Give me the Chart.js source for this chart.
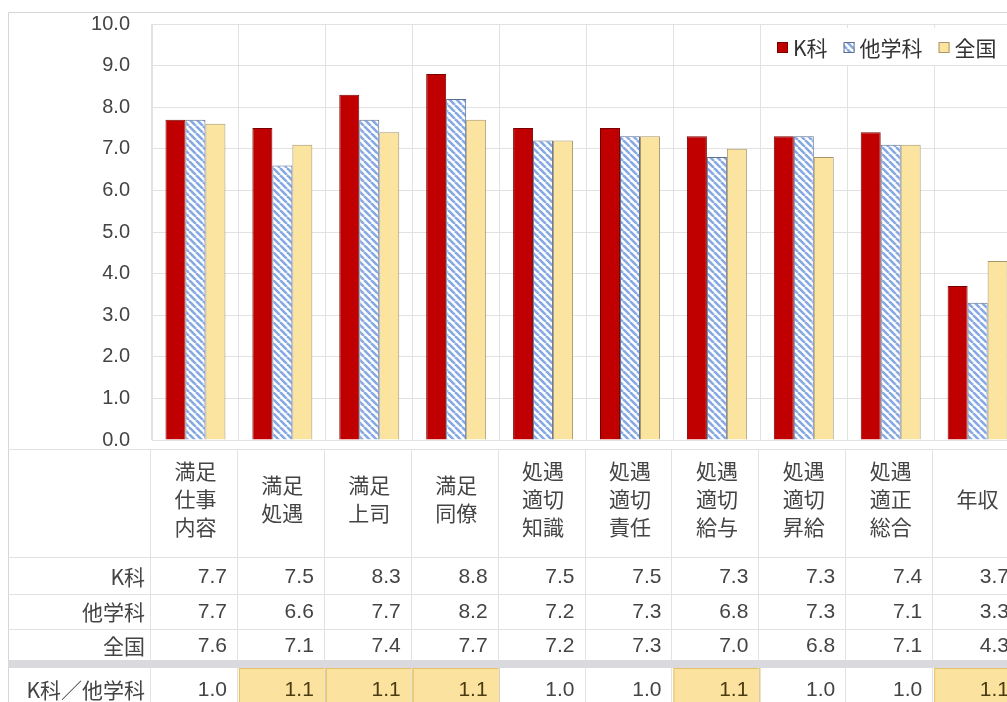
<!DOCTYPE html>
<html lang="ja">
<head>
<meta charset="utf-8">
<title>満足度比較</title>
<script src="https://cdn.jsdelivr.net/npm/chart.js@4.4.1/dist/chart.umd.min.js"></script>
<style>
  html, body { margin: 0; padding: 0; background: #fff; overflow: hidden; }
  #wrap { position: relative; width: 1030px; height: 702px; }
</style>
</head>
<body>
<div id="wrap"><canvas id="chart"></canvas></div>
<script>
// data (table below the plot gives the exact values)
const categories = [
  ['満足', '仕事', '内容'], ['満足', '処遇'], ['満足', '上司'], ['満足', '同僚'],
  ['処遇', '適切', '知識'], ['処遇', '適切', '責任'], ['処遇', '適切', '給与'],
  ['処遇', '適切', '昇給'], ['処遇', '適正', '総合'], ['年収']
];
const seriesNames = ['K科', '他学科', '全国'];
const kValues = [7.7, 7.5, 8.3, 8.8, 7.5, 7.5, 7.3, 7.3, 7.4, 3.7];
const otherValues = [7.7, 6.6, 7.7, 8.2, 7.2, 7.3, 6.8, 7.3, 7.1, 3.3];
const nationalValues = [7.6, 7.1, 7.4, 7.7, 7.2, 7.3, 7.0, 6.8, 7.1, 4.3];
const ratioLabel = 'K科／他学科';
const ratioValues = [1.0, 1.1, 1.1, 1.1, 1.0, 1.0, 1.1, 1.0, 1.0, 1.1];
const yMin = 0, yMax = 10, yStep = 1;

const TEXT = '#444444';
const GRID = '#e2e2e2';
const NUM_FONT = "21px 'Liberation Sans', Arial, 'Noto Sans CJK JP', sans-serif";
const JP_FONT = "21px 'Noto Sans CJK JP', sans-serif";

// blue diagonal hatch for 他学科
function makeHatch() {
  const c = document.createElement('canvas');
  c.width = 7; c.height = 7;
  const g = c.getContext('2d');
  g.fillStyle = '#ffffff';
  g.fillRect(0, 0, 7, 7);
  g.strokeStyle = '#86a9e2';
  g.lineWidth = 2.6;
  [-7, 0, 7].forEach(o => {
    g.beginPath();
    g.moveTo(o, 0);
    g.lineTo(o + 7, 7);
    g.stroke();
  });
  return g.createPattern(c, 'repeat');
}
const hatch = makeHatch();

// table under the plot + legend box
const tablePlugin = {
  id: 'dataTable',
  afterDraw(chart) {
    const ctx = chart.ctx;
    const x = chart.scales.x;
    const n = categories.length;
    const colW = (x.right - x.left) / n;
    const W = chart.width, H = chart.height;

    ctx.save();
    // outer frame
    ctx.strokeStyle = '#d6d6d6';
    ctx.lineWidth = 1;
    ctx.beginPath();
    ctx.moveTo(8.5, H); ctx.lineTo(8.5, 12.5); ctx.lineTo(W, 12.5);
    ctx.stroke();

    const tableTop = 449;
    const rowEdges = [557, 594, 629, 660];
    const bandBottom = 668;

    // ratio row highlight cells
    ratioValues.forEach((v, i) => {
      if (v > 1.05) {
        const l = x.left + i * colW;
        ctx.fillStyle = '#fbe29e';
        ctx.fillRect(l, bandBottom, colW, H - bandBottom);
        ctx.strokeStyle = '#e3c06a';
        ctx.strokeRect(l + 0.5, bandBottom + 0.5, colW - 1, H - bandBottom);
      }
    });

    // grid of the table
    ctx.strokeStyle = GRID;
    ctx.beginPath();
    ctx.moveTo(8, tableTop + 0.5); ctx.lineTo(W, tableTop + 0.5);
    rowEdges.slice(0, 3).forEach(y => { ctx.moveTo(8, y + 0.5); ctx.lineTo(W, y + 0.5); });
    for (let i = 0; i <= n; i++) {
      const px = Math.round(x.left + i * colW) - 1.5;
      ctx.moveTo(px, tableTop); ctx.lineTo(px, H);
    }
    ctx.stroke();

    // gray separator band
    ctx.fillStyle = '#d9d9de';
    ctx.fillRect(8, rowEdges[3], W - 8, bandBottom - rowEdges[3]);

    // rows
    const rows = [
      { label: seriesNames[0], values: kValues, mid: 577 },
      { label: seriesNames[1], values: otherValues, mid: 612 },
      { label: seriesNames[2], values: nationalValues, mid: 646 },
      { label: ratioLabel, values: ratioValues, mid: 690 }
    ];
    ctx.textBaseline = 'middle';
    rows.forEach((r, ri) => {
      ctx.textAlign = 'right';
      ctx.font = JP_FONT;
      ctx.fillStyle = TEXT;
      ctx.fillText(r.label, x.left - 7, r.mid);
      ctx.font = NUM_FONT;
      r.values.forEach((v, i) => {
        const right = x.left + (i + 1) * colW - 12;
        ctx.fillStyle = (ri === 3 && v > 1.05) ? '#4a3c10' : TEXT;
        ctx.fillText(v.toFixed(1), right, r.mid);
      });
    });

    // legend box inside the plot, top right
    const ds = chart.data.datasets;
    ctx.fillStyle = '#ffffff';
    ctx.fillRect(763, 28, W - 763, 37);
    let lx = 777;
    const ly = 48;
    ctx.font = JP_FONT;
    ctx.textAlign = 'left';
    ds.forEach(d => {
      ctx.fillStyle = d.backgroundColor;
      ctx.fillRect(lx, ly - 6, 11, 11);
      ctx.strokeStyle = d.borderColor;
      ctx.strokeRect(lx + 0.5, ly - 5.5, 10, 10);
      ctx.fillStyle = '#333333';
      ctx.fillText(d.label, lx + 16, ly);
      lx += 16 + ctx.measureText(d.label).width + 16;
    });
    ctx.restore();
  }
};

new Chart(document.getElementById('chart'), {
  type: 'bar',
  data: {
    labels: categories,
    datasets: [
      { label: seriesNames[0], data: kValues, backgroundColor: '#c00000', borderColor: '#7a0000', borderWidth: 1 },
      { label: seriesNames[1], data: otherValues, backgroundColor: hatch, borderColor: '#5d6d8e', borderWidth: 1 },
      { label: seriesNames[2], data: nationalValues, backgroundColor: '#fbe3a0', borderColor: '#a6966a', borderWidth: 1 }
    ]
  },
  options: {
    responsive: true,
    maintainAspectRatio: false,
    animation: false,
    layout: { padding: { top: 24, right: 8, bottom: 0, left: 0 } },
    datasets: { bar: { categoryPercentage: 0.69, barPercentage: 1.0 } },
    scales: {
      x: {
        grid: { color: GRID, drawTicks: false, offset: true },
        border: { color: GRID },
        ticks: {
          autoSkip: false, maxRotation: 0, padding: 31, crossAlign: 'center',
          color: TEXT,
          font: { family: "'Noto Sans CJK JP', sans-serif", size: 21, lineHeight: 1.33 }
        },
        afterFit(axis) { axis.height = 262; }
      },
      y: {
        min: yMin, max: yMax,
        grid: { color: GRID, drawTicks: false },
        border: { color: GRID },
        ticks: {
          stepSize: yStep, padding: 22, color: TEXT,
          font: { family: "'Liberation Sans', Arial, sans-serif", size: 20 },
          callback: v => v.toFixed(1)
        },
        afterFit(axis) {
          axis.width = 152;
          // tick padding would otherwise push the plot top down
          axis.paddingTop = 0;
          axis.paddingBottom = 0;
        }
      }
    },
    plugins: {
      legend: { display: false },
      tooltip: { enabled: false }
    }
  },
  plugins: [tablePlugin]
});
</script>
</body>
</html>
